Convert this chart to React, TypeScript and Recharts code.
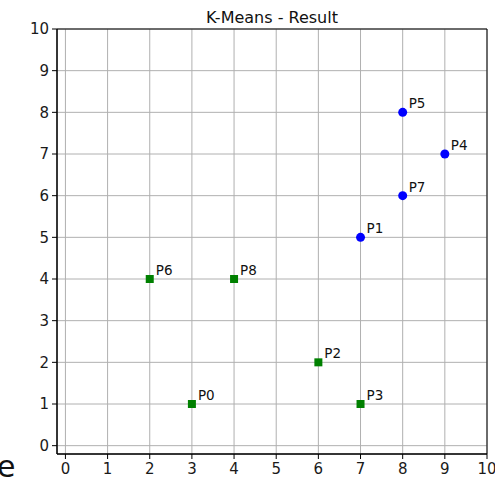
import { ScatterChart, Scatter, XAxis, YAxis, CartesianGrid, ReferenceArea, LabelList } from 'recharts'

// cluster points
const blueNames = ['P1', 'P4', 'P5', 'P7']
const blueX = [7, 9, 8, 8]
const blueY = [5, 7, 8, 6]

const greenNames = ['P0', 'P2', 'P3', 'P6', 'P8']
const greenX = [3, 6, 7, 2, 4]
const greenY = [1, 2, 1, 4, 4]

const ticks = [0, 1, 2, 3, 4, 5, 6, 7, 8, 9, 10]
const domain: [number, number] = [-0.2, 10]

const blue = blueNames.map((name, i) => ({ name, x: blueX[i], y: blueY[i] }))
const green = greenNames.map((name, i) => ({ name, x: greenX[i], y: greenY[i] }))

const FONT = '"DejaVu Sans", sans-serif'

const Dot = (props: any) => <circle cx={props.cx} cy={props.cy} r={4.5} fill="#0000ff" />
const Square = (props: any) => <rect x={props.cx - 4} y={props.cy - 4} width={8} height={8} fill="#008000" />

const PointLabel = (props: any) => {
  const cx = props.x + (props.width || 0) / 2
  const cy = props.y + (props.height || 0) / 2
  return (
    <text x={cx + 6} y={cy - 4} fontSize={13.5} fill="#111" fontFamily={FONT}>
      {props.value}
    </text>
  )
}

const tickStyle = { fill: '#1a1a1a', fontSize: 15, fontFamily: FONT }

export default function App() {
  return (
    <div style={{ position: 'absolute', left: 0, top: 0, width: 495, height: 478, background: '#fff', overflow: 'hidden' }}>
      <ScatterChart width={495} height={478} margin={{ top: 29, right: 8, bottom: 0, left: 0 }}>
        <CartesianGrid stroke="#b0b0b0" strokeWidth={1} />
        <XAxis
          type="number" dataKey="x" domain={domain} ticks={ticks} allowDataOverflow
          height={24} tick={tickStyle} tickSize={5} tickMargin={4}
          stroke="#000" tickLine={{ stroke: '#000' }}
        />
        <YAxis
          type="number" dataKey="y" domain={domain} ticks={ticks} allowDataOverflow
          width={57} tick={tickStyle} tickSize={5} tickMargin={3}
          stroke="#000" tickLine={{ stroke: '#000' }}
        />
        <ReferenceArea x1={-0.2} x2={10} y1={-0.2} y2={10} fill="none" stroke="#000" strokeWidth={1} ifOverflow="visible" />
        <Scatter data={green} shape={<Square />} isAnimationActive={false}>
          <LabelList dataKey="name" content={<PointLabel />} />
        </Scatter>
        <Scatter data={blue} shape={<Dot />} isAnimationActive={false}>
          <LabelList dataKey="name" content={<PointLabel />} />
        </Scatter>
      </ScatterChart>
      <svg width={495} height={478} style={{ position: 'absolute', left: 0, top: 0, pointerEvents: 'none' }}>
        <text x={272} y={23} textAnchor="middle" fontSize={16} fill="#111" fontFamily={FONT}>K-Means - Result</text>
        <text x={-3} y={477} fontSize={30} fill="#111" fontFamily={FONT}>e</text>
      </svg>
    </div>
  )
}
